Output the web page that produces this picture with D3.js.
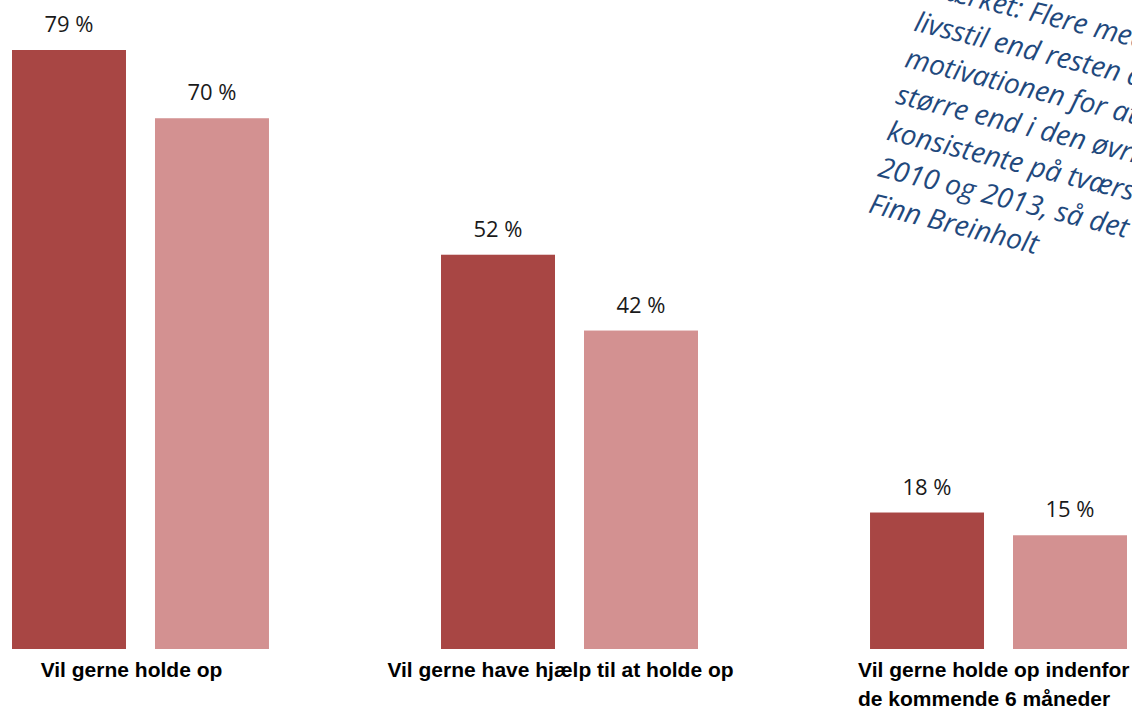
<!DOCTYPE html>
<html lang="da">
<head>
<meta charset="utf-8">
<script src="https://cdn.jsdelivr.net/npm/d3@7"></script>
<style>
  html, body { margin: 0; padding: 0; background: #fff; }
  svg { display: block; }
</style>
</head>
<body>
<svg id="chart" width="1132" height="709"></svg>
<script>
// Kategorier (hver kategori kan have flere linjer i etiketten)
const categories = ["holdeOp", "hjaelp", "seksMaaneder"];
const categoryLabels = [
  ["Vil gerne holde op"],
  ["Vil gerne have hjælp til at holde op"],
  ["Vil gerne holde op indenfor", "de kommende 6 måneder"]
];
const seriesKeys = ["serie1", "serie2"];
// Andele i procent
const serie1 = [79, 52, 18];
const serie2 = [70, 42, 15];
const valueSuffix = " %";

const annotationLines = [
  "Mærket: Flere med usund",
  "livsstil end resten af befolkningen,",
  "motivationen for at holde op",
  "større end i den øvrige befolkning",
  "konsistente på tværs af målingerne",
  "2010 og 2013, så det er ikke",
  "Finn Breinholt"
];

const colors = { serie1: "#a84644", serie2: "#d39191" };

const svg = d3.select("#chart");
const baseline = 649;

const x0 = d3.scaleBand()
  .domain(categories)
  .range([12, 1127])
  .paddingInner(0.401)
  .paddingOuter(0);

const x1 = d3.scaleBand()
  .domain(seriesKeys)
  .range([0, x0.bandwidth()])
  .paddingInner(0.2028)
  .paddingOuter(0);

const maxVal = d3.max(serie1.concat(serie2));
const y = d3.scaleLinear().domain([0, maxVal]).range([baseline, 50]);

const rows = categories.map((c, i) => ({
  cat: c,
  values: [
    { key: "serie1", value: serie1[i] },
    { key: "serie2", value: serie2[i] }
  ]
}));

const groups = svg.append("g").selectAll("g")
  .data(rows)
  .join("g")
  .attr("transform", d => `translate(${x0(d.cat)},0)`);

groups.selectAll("rect")
  .data(d => d.values)
  .join("rect")
  .attr("x", d => x1(d.key))
  .attr("y", d => y(d.value))
  .attr("width", x1.bandwidth())
  .attr("height", d => baseline - y(d.value))
  .attr("fill", d => colors[d.key]);

groups.selectAll("text.val")
  .data(d => d.values)
  .join("text")
  .attr("class", "val")
  .attr("x", d => x1(d.key) + x1.bandwidth() / 2)
  .attr("y", d => y(d.value) - 18)
  .attr("text-anchor", "middle")
  .attr("font-family", "'Open Sans', sans-serif")
  .attr("font-size", 22)
  .attr("fill", "#1a1a1a")
  .text(d => d.value + valueSuffix);

// Kategorietiketter under søjlerne
const catLabels = svg.append("g")
  .attr("font-family", "'Liberation Sans', Arial, sans-serif")
  .attr("font-weight", "bold")
  .attr("font-size", 21)
  .attr("fill", "#000");

categories.forEach((c, i) => {
  const lines = categoryLabels[i];
  const multi = lines.length > 1;
  const t = catLabels.append("text")
    .attr("text-anchor", multi ? "start" : "middle")
    .attr("y", 677);
  lines.forEach((ln, j) => {
    t.append("tspan")
      .attr("x", multi ? x0(c) - 12 : x0(c) + x0.bandwidth() / 2 - 9)
      .attr("dy", j === 0 ? 0 : 29)
      .text(ln);
  });
});

// Skrå kommentartekst øverst til højre
const note = svg.append("g")
  .attr("transform", "translate(922,-6) rotate(14)")
  .attr("font-family", "'Open Sans', sans-serif")
  .attr("font-style", "italic")
  .attr("font-size", 28)
  .attr("fill", "#1f497d");

note.selectAll("text")
  .data(annotationLines)
  .join("text")
  .attr("x", 0)
  .attr("y", (d, i) => i * 37.5)
  .text(d => d);
</script>
</body>
</html>
